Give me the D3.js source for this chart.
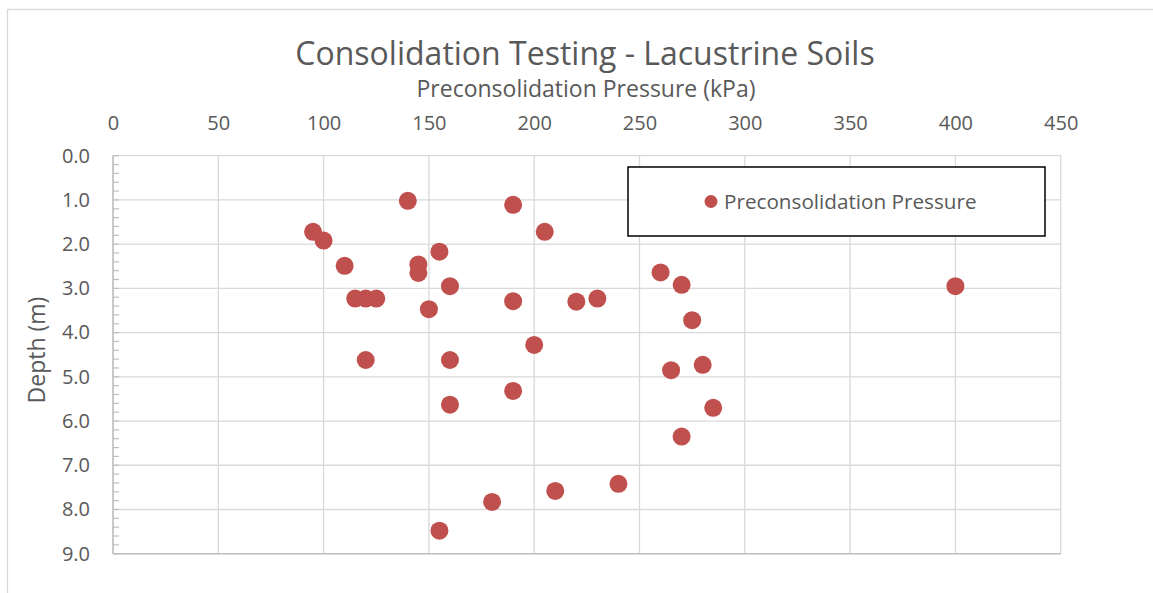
<!DOCTYPE html>
<html>
<head>
<meta charset="utf-8">
<script src="https://cdn.jsdelivr.net/npm/d3@7"></script>
<style>
  body { margin: 0; background: #fff; }
  svg { font-family: "Open Sans", sans-serif; }
</style>
</head>
<body>
<div id="chart"></div>
<script>
// Preconsolidation pressure (kPa) and depth (m)
const pressure = [140, 190, 95, 100, 205, 155, 110, 145, 145, 160, 115, 120, 125, 150, 190, 220, 230,
  260, 270, 400, 275, 200, 120, 160, 265, 280, 190, 160, 285, 270, 240, 210, 180, 155];
const depth = [1.02, 1.11, 1.72, 1.92, 1.72, 2.17, 2.49, 2.46, 2.65, 2.95, 3.23, 3.23, 3.23, 3.47, 3.29, 3.30, 3.23,
  2.64, 2.92, 2.95, 3.72, 4.28, 4.62, 4.62, 4.85, 4.73, 5.32, 5.63, 5.70, 6.35, 7.42, 7.58, 7.83, 8.48];
const xTicks = [0, 50, 100, 150, 200, 250, 300, 350, 400, 450];
const yTicks = [0, 1, 2, 3, 4, 5, 6, 7, 8, 9];
const seriesName = "Preconsolidation Pressure";

const W = 1153, H = 593;
const margin = { top: 155.7, right: 92.3, bottom: 39.3, left: 113 };
const width = W - margin.left - margin.right;
const height = H - margin.top - margin.bottom;
const textColor = "#595959";
const gridColor = "#d9d9d9";
const dotColor = "#c0504d";

const svg = d3.select("#chart").append("svg")
  .attr("width", W)
  .attr("height", H);

// outer chart frame
svg.append("rect")
  .attr("x", 7.5).attr("y", 9.5)
  .attr("width", W + 10).attr("height", H + 10)
  .attr("fill", "none").attr("stroke", gridColor).attr("stroke-width", 1.3);

const g = svg.append("g")
  .attr("transform", "translate(" + margin.left + "," + margin.top + ")");

const x = d3.scaleLinear().domain([0, 450]).range([0, width]);
const y = d3.scaleLinear().domain([0, 9]).range([0, height]);

// gridlines
g.selectAll(".vgrid").data(xTicks).enter().append("line")
  .attr("x1", (d) => x(d)).attr("x2", (d) => x(d))
  .attr("y1", 0).attr("y2", height)
  .attr("stroke", gridColor).attr("stroke-width", 1.3);
g.selectAll(".hgrid").data(yTicks).enter().append("line")
  .attr("x1", 0).attr("x2", width)
  .attr("y1", (d) => y(d)).attr("y2", (d) => y(d))
  .attr("stroke", gridColor).attr("stroke-width", 1.3);

// minor ticks on the depth axis (inside)
const minor = d3.range(0, 9.001, 0.2);
g.selectAll(".minor").data(minor).enter().append("line")
  .attr("x1", 0).attr("x2", 6)
  .attr("y1", (d) => y(d)).attr("y2", (d) => y(d))
  .attr("stroke", "#bfbfbf").attr("stroke-width", 1.2);

// axis lines
g.append("line").attr("x1", 0).attr("x2", 0).attr("y1", 0).attr("y2", height)
  .attr("stroke", "#bfbfbf").attr("stroke-width", 1.5);
g.append("line").attr("x1", 0).attr("x2", width).attr("y1", height).attr("y2", height)
  .attr("stroke", "#bfbfbf").attr("stroke-width", 1.5);

// top axis labels
const xAxis = g.append("g")
  .call(d3.axisTop(x).tickValues(xTicks).tickSize(0).tickPadding(26).tickFormat(d3.format("d")));
xAxis.select(".domain").remove();
xAxis.selectAll("text").attr("font-size", "20px").attr("fill", textColor).attr("font-family", "Open Sans");

// left axis labels
const yAxis = g.append("g")
  .call(d3.axisLeft(y).tickValues(yTicks).tickSize(0).tickPadding(23).tickFormat(d3.format(".1f")));
yAxis.select(".domain").remove();
yAxis.selectAll("text").attr("font-size", "20px").attr("fill", textColor).attr("font-family", "Open Sans");

// points
g.selectAll(".dot").data(pressure).enter().append("circle")
  .attr("cx", (d) => x(d))
  .attr("cy", (d, i) => y(depth[i]))
  .attr("r", 9)
  .attr("fill", dotColor);

// titles
svg.append("text")
  .attr("x", 585).attr("y", 65)
  .attr("text-anchor", "middle")
  .attr("font-size", "32px").attr("fill", textColor)
  .text("Consolidation Testing - Lacustrine Soils");

svg.append("text")
  .attr("x", 586).attr("y", 97)
  .attr("text-anchor", "middle")
  .attr("font-size", "23px").attr("fill", textColor)
  .text("Preconsolidation Pressure (kPa)");

svg.append("text")
  .attr("transform", "translate(45,350) rotate(-90)")
  .attr("text-anchor", "middle")
  .attr("font-size", "23px").attr("fill", textColor)
  .text("Depth (m)");

// legend
svg.append("rect")
  .attr("x", 628).attr("y", 167)
  .attr("width", 417).attr("height", 69)
  .attr("fill", "#fff").attr("stroke", "#000").attr("stroke-width", 1.5);
svg.append("circle")
  .attr("cx", 711).attr("cy", 201.5).attr("r", 6.5).attr("fill", dotColor);
svg.append("text")
  .attr("x", 724).attr("y", 209)
  .attr("font-size", "20.7px").attr("fill", textColor)
  .text(seriesName);
</script>
</body>
</html>
